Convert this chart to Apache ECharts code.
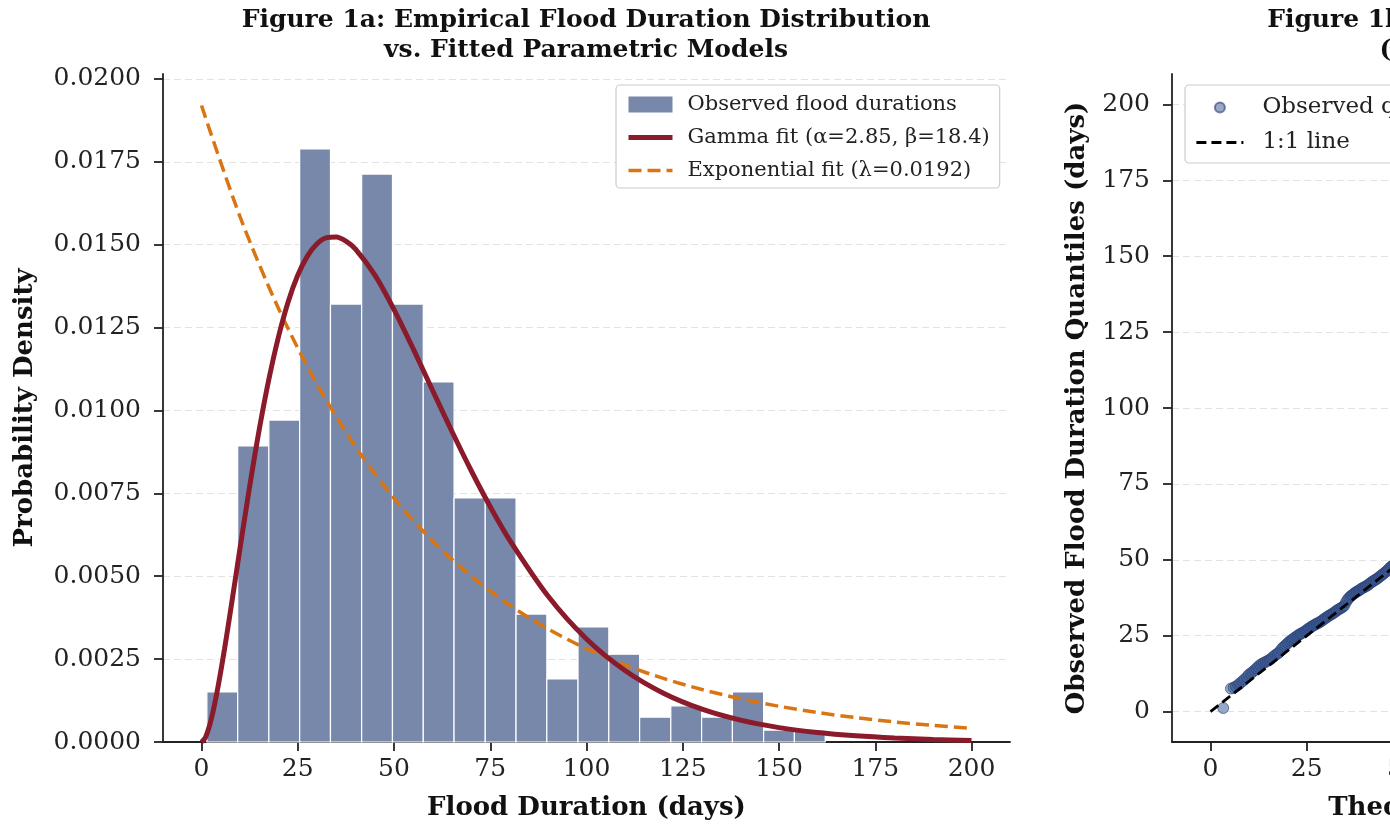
<!DOCTYPE html>
<html>
<head>
<meta charset="utf-8">
<script src="https://cdn.jsdelivr.net/npm/echarts@6/dist/echarts.min.js"></script>
<style>
html,body{margin:0;padding:0;background:#fff;}
#chart{width:1390px;height:825px;}
</style>
</head>
<body>
<div id="chart"></div>
<script>
// ---------- data ----------
// histogram bin edges (days) and densities
var binEdges = [1.4, 9.4, 17.5, 25.5, 33.5, 41.6, 49.6, 57.6, 65.6, 73.7, 81.7, 89.7, 97.8, 105.8, 113.8, 121.9, 129.9, 137.9, 146.0, 154.0, 162.0];
var binDensity = [0.00151, 0.00893, 0.00971, 0.01789, 0.01321, 0.01713, 0.01321, 0.01086, 0.00736, 0.00736, 0.00386, 0.00190, 0.00347, 0.00265, 0.00075, 0.00109, 0.00075, 0.00151, 0.00036, 0.00036];

// Gamma fit curve (x, density)
var gammaX = [0, 1, 2, 3, 4, 5, 6, 7, 8, 9, 10, 12.5, 15, 17.5, 20, 22.5, 25, 27.5, 30, 32.5, 35, 37.5, 40, 45, 50, 55, 60, 65, 70, 75, 80, 90, 100, 110, 120, 130, 140, 150, 160, 170, 180, 190, 200];
var gammaY = [0, 0.000135, 0.000459, 0.000922, 0.001485, 0.002126, 0.00282, 0.003553, 0.004308, 0.005075, 0.00584, 0.0077, 0.009425, 0.01094, 0.012224, 0.013273, 0.014077, 0.014655, 0.015028, 0.015216, 0.015236, 0.015111, 0.014871, 0.01409, 0.013045, 0.011858, 0.010612, 0.00938, 0.008197, 0.007097, 0.006097, 0.004402, 0.003106, 0.002155, 0.00147, 0.000989, 0.000658, 0.000434, 0.000284, 0.000185, 0.000119, 0.0000763, 0.0000488];

// Exponential fit curve (x, density)
var expX = [0, 10, 20, 30, 40, 50, 60, 70, 80, 90, 100, 110, 120, 130, 140, 150, 160, 170, 180, 190, 200];
var expY = [0.0192, 0.015846, 0.013077, 0.010793, 0.008907, 0.007351, 0.006067, 0.005007, 0.004132, 0.00341, 0.002815, 0.002323, 0.001917, 0.001582, 0.001306, 0.001078, 0.000889, 0.000734, 0.000606, 0.0005, 0.000413];

// Q-Q plot: theoretical vs observed quantiles (visible part)
var qqTheo = [3.3, 5.3, 6.0, 6.6, 7.2, 7.7, 8.3, 8.8, 9.4, 9.9, 10.4, 10.9, 11.4, 11.9, 12.4, 12.9, 13.4, 13.9, 14.4, 14.9, 15.4, 15.9, 16.4, 16.9, 17.4, 17.8, 18.3, 18.7, 19.2, 19.6, 20.1, 20.5, 21.0, 21.4, 21.8, 22.3, 22.7, 23.1, 23.5, 23.9, 24.4, 24.8, 25.2, 25.6, 26.0, 26.4, 26.8, 27.2, 27.6, 28.0, 28.4, 28.8, 29.2, 29.6, 30.0, 30.4, 30.8, 31.2, 31.6, 32.0, 32.4, 32.8, 33.2, 33.6, 34.0, 34.4, 34.8, 35.2, 35.6, 36.0, 36.4, 36.8, 37.2, 37.6, 38.0, 38.4, 38.8, 39.2, 39.6, 40.0, 40.4, 40.8, 41.2, 41.6, 42.0, 42.4, 42.8, 43.2, 43.6, 44.0, 44.4, 44.8, 45.2, 45.6, 46.0, 46.4, 46.8, 47.2, 47.6, 48.0, 48.5, 49.0, 49.5, 50.0];
var qqObs = [1.2, 7.6, 7.9, 8.3, 8.8, 9.4, 10.0, 10.6, 11.3, 12.1, 12.6, 13.0, 13.6, 14.2, 14.8, 15.4, 15.8, 16.1, 16.4, 16.8, 17.1, 17.6, 18.2, 18.7, 19.1, 19.5, 20.3, 21.0, 21.5, 22.0, 22.6, 23.1, 23.5, 23.9, 24.3, 24.7, 25.1, 25.4, 25.7, 26.0, 26.3, 26.7, 27.1, 27.4, 27.8, 28.1, 28.4, 28.7, 29.0, 29.2, 29.5, 29.8, 30.2, 30.6, 30.9, 31.3, 31.6, 31.9, 32.2, 32.5, 32.9, 33.3, 33.6, 33.9, 34.2, 34.5, 35.0, 36.1, 36.9, 37.5, 38.0, 38.4, 38.8, 39.2, 39.5, 39.8, 40.1, 40.5, 40.8, 41.0, 41.3, 41.6, 42.0, 42.4, 42.8, 43.1, 43.4, 43.7, 44.1, 44.5, 44.9, 45.3, 45.7, 46.1, 46.6, 47.1, 47.6, 48.0, 48.4, 48.8, 49.2, 49.7, 50.1, 50.6];
var refLine = [[0, 0], [200, 200]];

// tick labels
var xTicks = [0, 25, 50, 75, 100, 125, 150, 175, 200];
var densTicks = [0, 0.0025, 0.005, 0.0075, 0.01, 0.0125, 0.015, 0.0175, 0.02];
var qqTicks = [0, 25, 50, 75, 100, 125, 150, 175, 200];

// ---------- build ----------
function zip(a, b) { return a.map(function (v, i) { return [v, b[i]]; }); }
var histData = binDensity.map(function (d, i) { return [binEdges[i], binEdges[i + 1], d]; });

var SERIF = 'DejaVu Serif';
var INK = '#222';
var HIDE = { color: 'rgba(0,0,0,0)', borderColor: 'rgba(0,0,0,0)', borderWidth: 0 };
var GAMMA_STYLE = { color: '#8b1a2b', width: 5 };
var EXP_STYLE = { color: '#d97512', width: 3.5, type: [13, 6] };
var REF_STYLE = { color: '#000', width: 2.8, type: [10, 5] };

function valAxis(opts) {
  return {
    type: 'value',
    gridIndex: opts.grid0,
    min: opts.min, max: opts.max,
    axisLine: { show: true, onZero: false, lineStyle: { color: INK, width: 1.8 } },
    axisTick: { show: true, length: 9, lineStyle: { color: INK, width: 1.8 }, customValues: opts.ticks },
    axisLabel: { customValues: opts.ticks, fontFamily: SERIF, fontSize: 25, color: INK, margin: opts.margin, formatter: opts.fmt },
    splitLine: { show: !!opts.grid, lineStyle: { color: '#e3e3e3', width: 1.2, type: [7, 4] } },
    name: opts.name,
    nameLocation: 'middle',
    nameGap: opts.gap,
    nameTextStyle: { fontFamily: SERIF, fontWeight: 'bold', fontSize: 26, color: '#111' }
  };
}

var chart = echarts.init(document.getElementById('chart'), null, { renderer: 'canvas' });
var option = {
  animation: false,
  backgroundColor: '#fff',
  grid: [
    { left: 163, width: 847, top: 74, bottom: 83, containLabel: false, outerBoundsMode: 'none' },
    { left: 1172, width: 847, top: 74, bottom: 83, containLabel: false, outerBoundsMode: 'none' }
  ],
  xAxis: [
    valAxis({ grid0: 0, min: -10, max: 210, ticks: xTicks, margin: 15, name: 'Flood Duration (days)', gap: 53, fmt: function (v) { return String(v); } }),
    valAxis({ grid0: 1, min: -10, max: 210, ticks: qqTicks, margin: 15, name: 'Theoretical Gamma Quantiles (days)', gap: 53, fmt: function (v) { return String(v); } })
  ],
  yAxis: [
    valAxis({ grid0: 0, min: 0, max: 0.02015, ticks: densTicks, grid: true, margin: 22, name: 'Probability Density', gap: 125, fmt: function (v) { return v.toFixed(4); } }),
    valAxis({ grid0: 1, min: -10, max: 210, ticks: qqTicks, grid: true, margin: 22, name: 'Observed Flood Duration Quantiles (days)', gap: 82, fmt: function (v) { return String(v); } })
  ],
  legend: [
    {
      orient: 'vertical', left: 616, top: 85,
      backgroundColor: 'rgba(255,255,255,0.9)', borderColor: '#cccccc', borderWidth: 1.2, borderRadius: 4,
      padding: [9, 10, 7, 10], itemWidth: 44, itemHeight: 16, itemGap: 12,
      textStyle: { fontFamily: SERIF, fontSize: 21, color: INK, padding: [0, 0, 0, 10] },
      data: [
        { name: 'Observed flood durations', icon: 'rect' },
        { name: 'Gamma fit (α=2.85, β=18.4)', itemStyle: HIDE, lineStyle: GAMMA_STYLE },
        { name: 'Exponential fit (λ=0.0192)', itemStyle: HIDE, lineStyle: EXP_STYLE }
      ]
    },
    {
      orient: 'vertical', left: 1185, top: 85,
      backgroundColor: 'rgba(255,255,255,0.9)', borderColor: '#cccccc', borderWidth: 1.2, borderRadius: 4,
      padding: [11, 12, 9, 10], itemWidth: 47, itemHeight: 10, itemGap: 12,
      textStyle: { fontFamily: SERIF, fontSize: 23, color: INK, padding: [0, 0, 0, 14] },
      data: [
        { name: 'Observed quantiles', icon: 'circle' },
        { name: '1:1 line', itemStyle: HIDE, lineStyle: REF_STYLE }
      ]
    }
  ],
  graphic: [
    { type: 'text', x: 586, y: 5, style: { text: 'Figure 1a: Empirical Flood Duration Distribution\nvs. Fitted Parametric Models', textAlign: 'center', fontFamily: SERIF, fontWeight: 'bold', fontSize: 25, lineHeight: 30, fill: '#111' } },
    { type: 'text', x: 1609, y: 5, style: { text: 'Figure 1b: Q-Q Plot Against Gamma Distribution\n(Observed vs. Gamma Quantiles)', textAlign: 'center', fontFamily: SERIF, fontWeight: 'bold', fontSize: 25, lineHeight: 30, fill: '#111' } }
  ],
  series: [
    {
      name: 'Observed flood durations', type: 'custom', xAxisIndex: 0, yAxisIndex: 0,
      itemStyle: { color: '#7788aa' },
      encode: { x: [0, 1], y: 2 },
      data: histData,
      z: 1,
      renderItem: function (params, api) {
        var p0 = api.coord([api.value(0), api.value(2)]);
        var p1 = api.coord([api.value(1), 0]);
        return { type: 'rect', shape: { x: p0[0], y: p0[1], width: p1[0] - p0[0], height: p1[1] - p0[1] },
          style: { fill: '#7788aa', stroke: '#ffffff', lineWidth: 1.2 } };
      }
    },
    {
      name: 'Gamma fit (α=2.85, β=18.4)', type: 'line', xAxisIndex: 0, yAxisIndex: 0,
      data: zip(gammaX, gammaY), symbol: 'none', smooth: 0.3, z: 3,
      lineStyle: GAMMA_STYLE, itemStyle: { color: '#8b1a2b' }
    },
    {
      name: 'Exponential fit (λ=0.0192)', type: 'line', xAxisIndex: 0, yAxisIndex: 0,
      data: zip(expX, expY), symbol: 'none', smooth: 0.3, z: 2,
      lineStyle: EXP_STYLE, itemStyle: { color: '#d97512' }
    },
    {
      name: 'Observed quantiles', type: 'scatter', xAxisIndex: 1, yAxisIndex: 1,
      data: zip(qqTheo, qqObs), symbolSize: 11, z: 2,
      itemStyle: { color: 'rgba(58,88,148,0.65)', borderColor: 'rgba(38,60,112,0.75)', borderWidth: 1 }
    },
    {
      name: '1:1 line', type: 'line', xAxisIndex: 1, yAxisIndex: 1,
      data: refLine, symbol: 'none', z: 3,
      lineStyle: REF_STYLE, itemStyle: { color: '#000' }
    }
  ]
};
chart.setOption(option);
</script>
</body>
</html>
